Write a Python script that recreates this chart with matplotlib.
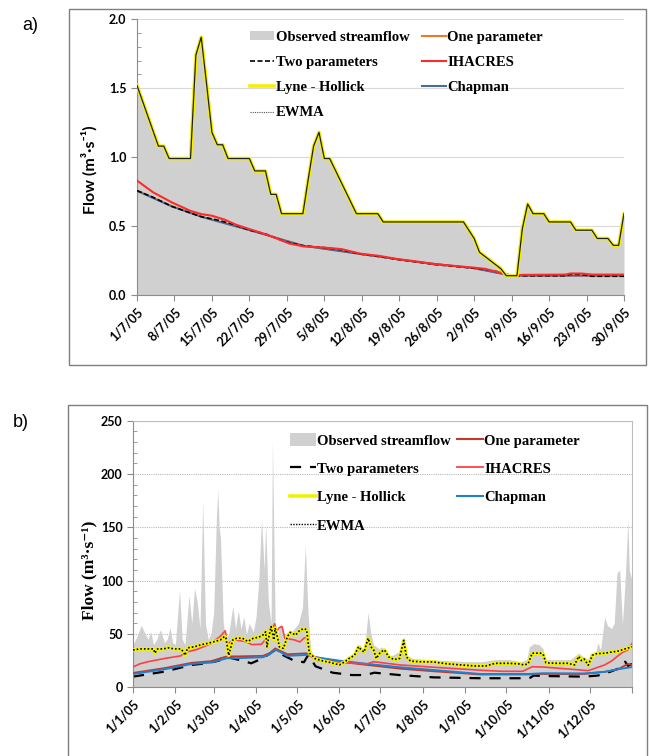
import matplotlib
matplotlib.use('Agg')
import matplotlib.pyplot as plt
import matplotlib.patches as mpatches
from matplotlib.lines import Line2D
from matplotlib.ticker import MultipleLocator, FixedLocator

# ---------------- Panel a data (1/7/05 - 30/9/05, day index) ----------------
a_tick_days = [0, 7, 14, 21, 28, 35, 42, 49, 56, 63, 70, 77, 84, 91]
a_tick_labels = ['1/7/05', '8/7/05', '15/7/05', '22/7/05', '29/7/05', '5/8/05', '12/8/05',
                 '19/8/05', '26/8/05', '2/9/05', '9/9/05', '16/9/05', '23/9/05', '30/9/05']

obs_a = [1.52, 1.41, 1.30, 1.19, 1.08, 1.08, 0.99, 0.99, 0.99, 0.99,
         0.99, 1.74, 1.87, 1.53, 1.18, 1.09, 1.09, 0.99, 0.99, 0.99,
         0.99, 0.99, 0.90, 0.90, 0.90, 0.73, 0.73, 0.59, 0.59, 0.59,
         0.59, 0.59, 0.84, 1.08, 1.18, 0.99, 0.99, 0.91, 0.83, 0.75,
         0.67, 0.59, 0.59, 0.59, 0.59, 0.59, 0.53, 0.53, 0.53, 0.53,
         0.53, 0.53, 0.53, 0.53, 0.53, 0.53, 0.53, 0.53, 0.53, 0.53,
         0.53, 0.53, 0.47, 0.41, 0.31, 0.28, 0.25, 0.22, 0.19, 0.14,
         0.14, 0.14, 0.48, 0.66, 0.59, 0.59, 0.59, 0.53, 0.53, 0.53,
         0.53, 0.53, 0.47, 0.47, 0.47, 0.47, 0.41, 0.41, 0.41, 0.36,
         0.36, 0.59]
lyne_a = obs_a
ewma_a = obs_a

ihacres_a_days = [0, 3, 6.5, 10, 12, 14, 16.4, 18.5, 21, 23.4, 25.9, 28.4, 31.2, 34.7, 38.2,
                  41.7, 45.2, 48.8, 52.3, 55.8, 59.3, 62.8, 65, 67.8, 69.9, 72, 80, 81, 83, 85, 91]
ihacres_a = [0.83, 0.745, 0.672, 0.61, 0.587, 0.575, 0.546, 0.51, 0.478, 0.449, 0.413, 0.374,
             0.352, 0.345, 0.333, 0.30, 0.284, 0.26, 0.243, 0.223, 0.211, 0.199, 0.19, 0.163,
             0.14, 0.146, 0.148, 0.156, 0.156, 0.148, 0.148]

two_a_days = [0, 3, 6.5, 10, 12, 15, 17.8, 21, 24.1, 27.7, 31.2, 34.7, 38.2, 41.7, 45.2, 48.8,
              52.3, 55.8, 59.3, 62.8, 65, 68.5, 70, 80, 81, 83, 85, 91]
two_a = [0.757, 0.709, 0.643, 0.595, 0.568, 0.544, 0.515, 0.471, 0.442, 0.386, 0.357, 0.345,
         0.328, 0.297, 0.28, 0.257, 0.24, 0.22, 0.208, 0.195, 0.187, 0.16, 0.14, 0.14, 0.15,
         0.15, 0.136, 0.136]

one_a_days = [0, 6.5, 12, 21, 31.2, 41.7, 52.3, 62.8, 70, 91]
one_a = [0.76, 0.645, 0.57, 0.472, 0.357, 0.298, 0.24, 0.196, 0.14, 0.14]
chap_a_days = [0, 6.5, 12, 21, 31.2, 41.7, 52.3, 62.8, 70, 91]
chap_a = [0.755, 0.642, 0.567, 0.47, 0.356, 0.297, 0.24, 0.195, 0.14, 0.14]

# ---------------- Panel b data (2005, day of year) ----------------
b_tick_days = [0, 31, 59, 90, 120, 151, 181, 212, 243, 273, 304, 334, 365]
b_tick_labels = ['1/1/05', '1/2/05', '1/3/05', '1/4/05', '1/5/05', '1/6/05', '1/7/05',
                 '1/8/05', '1/9/05', '1/10/05', '1/11/05', '1/12/05', '']

obs_b_days = [0, 3, 6, 9, 11, 13, 15, 17, 20, 23, 25, 27, 29, 31, 34, 36, 38, 41, 43, 45,
              47, 49, 51, 53, 55, 57, 59, 61, 62, 63, 64, 66, 68, 70, 73, 75, 77, 79, 81, 83,
              85, 88, 90, 92, 94, 96, 97, 99, 101, 102, 104, 106, 108, 110, 114, 118, 121, 124,
              126, 128, 130, 133, 140, 150, 158, 163, 166, 168, 170, 172, 174, 176, 180, 182,
              186, 190, 195, 198, 200, 205, 215, 230, 245, 255, 265, 275, 284, 288, 290, 293,
              297, 300, 301, 320, 326, 330, 334, 338, 340, 342, 345, 347, 350, 352, 354, 356,
              358, 360, 362, 363, 365]
obs_b = [40, 48, 58, 50, 45, 52, 40, 44, 54, 42, 45, 56, 42, 40, 91, 45, 40, 86, 60, 93,
         80, 55, 175, 60, 45, 50, 70, 158, 186, 150, 140, 60, 45, 50, 76, 55, 72, 55, 66, 50,
         60, 52, 66, 100, 158, 110, 154, 80, 60, 231, 60, 50, 60, 45, 48, 55, 60, 75,
         133, 70, 35, 28, 26, 24, 28, 32, 40, 35, 45, 70, 50, 40, 36, 38,
         30, 30, 34, 47, 30, 27, 26, 25, 24, 24, 26, 26, 24, 26, 38, 41,
         40, 36, 26, 26, 32, 28, 26, 30, 42, 35, 66, 58, 55, 60, 107, 110,
         59, 100, 157, 110, 100]

lyne_b_days = [0, 5, 10, 15, 16, 18, 22, 26, 30, 35, 37, 38, 40, 45, 50, 54, 60, 64, 67, 68,
               70, 73, 76, 80, 84, 88, 92, 95, 97, 98, 99, 101, 103, 104, 106, 107, 110, 113,
               115, 119, 122, 125, 127, 129, 131, 133, 138, 145, 151, 155, 158, 162, 165, 167,
               169, 172, 174, 176, 178, 181, 184, 187, 191, 195, 198, 200, 203, 210, 220, 230,
               240, 250, 258, 265, 270, 275, 282, 286, 289, 292, 298, 300, 302, 310, 318, 323,
               326, 328, 330, 333, 336, 339, 345, 350, 355, 360, 365]
lyne_b = [35, 36, 36, 36, 32, 36, 36, 37, 36, 36, 33, 30, 37, 38, 40, 41, 43, 44.5, 47.7, 46,
          30, 44.5, 46, 46, 43, 46, 47, 49, 52, 38, 45, 57, 44.5, 55.5, 45, 38, 36.5, 47.7,
          51.5, 49, 53.5, 55, 54, 32, 30, 27, 25, 23, 21, 24, 27, 30, 38, 35,
          33, 46, 38, 35, 27, 33, 35, 28.5, 26, 27, 44, 28.5, 24.5, 24, 23.7, 22,
          21, 20, 20, 22.5, 22.5, 22.5, 22, 21, 22, 32, 32, 31, 23, 22.5, 22.5, 21,
          29, 25, 26.5, 20.7, 30, 31.5, 32, 33, 34, 36, 38]
ewma_b_days = lyne_b_days
ewma_b = lyne_b

ihacres_b_days = [0, 5, 11, 23, 35, 38, 47, 57, 64, 67.5, 69, 74, 82, 87, 94, 99, 101, 103.6,
                  105, 107, 109, 111, 118, 122, 125, 127, 129, 135, 151, 171, 176, 195, 220,
                  254, 270, 285, 292, 300, 320, 333, 345, 350, 358, 362, 365]
ihacres_b = [19, 22, 24, 27, 29.5, 32.6, 35.6, 41, 48, 53, 41, 44.5, 43, 40, 40.4, 48, 53,
             59.5, 52, 56, 57, 46, 44.5, 42.5, 46, 47, 30, 25, 23.5, 21.9, 24, 21, 18.8,
             16, 15, 15, 19.3, 19, 17, 15.6, 21, 24.6, 32.8, 35, 41]

chap_b_days = [0, 23, 43, 57, 66, 69, 76, 95, 99.5, 104, 108, 112.5, 129, 131, 151, 171, 195,
               220, 254, 290, 300, 330, 345, 355, 365]
chap_b = [12.5, 16.9, 21.9, 23.2, 26.3, 27.3, 27.3, 28.2, 30.5, 35.2, 33, 29.5, 30.5, 28.5,
          25, 22, 18.8, 16.2, 12.5, 12.5, 13.2, 13, 14.5, 17, 19]

one_b_days = [0, 23, 43, 57, 66, 69, 76, 95, 100, 104, 108, 113, 129, 131, 151, 171, 195,
              220, 254, 290, 300, 330, 345, 355, 362, 365]
one_b = [13.5, 18, 23, 24.5, 28, 29, 29, 29.5, 32, 36.5, 34, 31, 32, 29, 24, 21, 17.5,
         15, 12, 12, 12.5, 12.5, 14.5, 17, 22, 21]

two_b_days = [0, 23, 43, 54, 63, 68, 72, 80, 86.5, 95, 104, 110, 117.7, 125, 128, 130, 133.5,
              146, 160, 170, 176.6, 195, 220, 254, 290, 293, 300, 330, 340, 350, 356, 360,
              362, 365]
two_b = [10, 14.7, 21, 22.5, 25, 30.5, 27.3, 25, 22.5, 27.3, 35, 30, 25, 23.5, 30, 27, 19.7,
         13.7, 11.5, 11.5, 13.7, 11.5, 9.3, 8.5, 8.5, 11, 10.6, 10, 11, 15, 18, 24, 20, 22]

# ---------------- Figure ----------------
W, H = 649, 756
fig = plt.figure(figsize=(W / 100, H / 100), dpi=100)

SANS = ['Lato', 'DejaVu Sans']
SERIF = ['Liberation Serif', 'DejaVu Serif']
GRAY_OBS = '#d0d0d0'
AXC = '#8c8c8c'

# outer boxes
fig.add_artist(mpatches.Rectangle((69 / W, 1 - 365 / H), (646 - 69) / W, (365 - 9) / H,
                                  transform=fig.transFigure, fill=False, ec='#7f7f7f', lw=1.0))
fig.add_artist(mpatches.Rectangle((68 / W, -0.05), (647 - 68) / W, 0.05 + 1 - 405 / H,
                                  transform=fig.transFigure, fill=False, ec='#7f7f7f', lw=1.0))

fig.text(22 / W, 1 - 25 / H, 'a)', fontsize=13, family='Liberation Sans', va='center', ha='left')
fig.text(13 / W, 1 - 422 / H, 'b)', fontsize=13, family='Liberation Sans', va='center', ha='left')

# ---------- Panel a ----------
axa = fig.add_axes([137 / W, 1 - 295 / H, (624 - 137) / W, (295 - 19.3) / H])
xa = list(range(len(obs_a)))
axa.fill_between(xa, obs_a, 0, color=GRAY_OBS, lw=0, zorder=1)
axa.plot(one_a_days, one_a, color='#f07828', lw=1.3, zorder=2)
axa.plot(chap_a_days, chap_a, color='#4a6a9a', lw=1.3, zorder=2)
axa.plot(two_a_days, two_a, color='black', lw=1.2, dashes=(3, 1.5), zorder=3)
axa.plot(ihacres_a_days, ihacres_a, color='#ff2a2a', lw=1.5, zorder=4)
axa.plot(xa, lyne_a, color='#f5f000', lw=2.6, zorder=5)
axa.plot(xa, ewma_a, color='#202020', lw=0.9, zorder=6)

axa.set_xlim(0, 91)
axa.set_ylim(0, 2.0)
axa.set_yticks([0, 0.5, 1.0, 1.5, 2.0])
axa.set_yticklabels(['0.0', '0.5', '1.0', '1.5', '2.0'])
axa.yaxis.set_minor_locator(MultipleLocator(0.1))
axa.set_xticks(a_tick_days)
axa.set_xticklabels(a_tick_labels, rotation=45, ha='right', rotation_mode='anchor')
axa.grid(axis='y', color='#d9d9d9', lw=0.8, zorder=0)
axa.set_axisbelow(True)
for s in ['top', 'right']:
    axa.spines[s].set_visible(False)
for s in ['left', 'bottom']:
    axa.spines[s].set_color(AXC)
axa.tick_params(axis='both', which='major', direction='out', length=4, color=AXC, width=0.8)
axa.tick_params(axis='y', which='minor', direction='in', length=3, color=AXC, width=0.6)
for t in axa.get_xticklabels() + axa.get_yticklabels():
    t.set_family(SANS)
    t.set_fontweight('bold')
    t.set_fontsize(9)
fig.text(89 / W, 1 - 170 / H, 'Flow (m³·s⁻¹)', rotation=90, family=SANS, fontweight='bold',
         fontsize=11.5, ha='center', va='center')

h_obs = mpatches.Patch(color=GRAY_OBS, lw=0)
la_handles = [h_obs,
              Line2D([], [], color='black', lw=1.2, dashes=(3, 1.5)),
              Line2D([], [], color='#f5f000', lw=2.6),
              Line2D([], [], color='#555555', lw=0.8, ls=(0, (1, 1))),
              Line2D([], [], color='#f07828', lw=1.5),
              Line2D([], [], color='#ff2a2a', lw=1.5),
              Line2D([], [], color='#4a6a9a', lw=1.5)]
la_labels = ['Observed streamflow', 'Two parameters', 'Lyne - Hollick', 'EWMA',
             'One parameter', 'IHACRES', 'Chapman']
axa.legend(la_handles, la_labels, ncol=2, loc='upper left',
           bbox_to_anchor=(250 / W, 1 - 31 / H), bbox_transform=fig.transFigure,
           frameon=False, borderpad=0, borderaxespad=0, handlelength=1.65, handleheight=0.55,
           handletextpad=0.1, columnspacing=0.85, labelspacing=0.83,
           prop={'family': SERIF, 'weight': 'bold', 'size': 10.5})

# ---------- Panel b ----------
axb = fig.add_axes([133 / W, 1 - 687.3 / H, (632 - 133) / W, (687.3 - 420.7) / H])
axb.fill_between(obs_b_days, obs_b, 0, color=GRAY_OBS, lw=0, zorder=1)
axb.plot(two_b_days, two_b, color='black', lw=1.6, dashes=(5, 4), zorder=2)
axb.plot(one_b_days, one_b, color='#c0392b', lw=1.3, zorder=3)
axb.plot(chap_b_days, chap_b, color='#1f80d0', lw=1.4, zorder=3)
axb.plot(ihacres_b_days, ihacres_b, color='#ff4040', lw=1.2, zorder=4)
axb.plot(lyne_b_days, lyne_b, color='#f2f200', lw=2.6, zorder=5)
axb.plot(ewma_b_days, ewma_b, color='black', lw=1.2, ls=(0, (1, 1.2)), zorder=6)

axb.set_xlim(0, 365)
axb.set_ylim(0, 250)
axb.set_yticks([0, 50, 100, 150, 200, 250])
axb.yaxis.set_minor_locator(MultipleLocator(10))
axb.set_xticks(b_tick_days)
axb.set_xticklabels(b_tick_labels, rotation=45, ha='right', rotation_mode='anchor')
axb.grid(axis='y', color='#b8b8b8', lw=0.8, ls=(0, (1, 1)), zorder=0)
axb.set_axisbelow(True)
for s in ['top', 'right']:
    axb.spines[s].set_color('#bdbdbd')
for s in ['left', 'bottom']:
    axb.spines[s].set_color(AXC)
axb.tick_params(axis='both', which='major', direction='out', length=4, color=AXC, width=0.8)
axb.tick_params(axis='y', which='minor', direction='in', length=3, color=AXC, width=0.6)
for t in axb.get_xticklabels() + axb.get_yticklabels():
    t.set_family(SANS)
    t.set_fontweight('bold')
    t.set_fontsize(9)
fig.text(89 / W, 1 - 570 / H, 'Flow (m³·s⁻¹)', rotation=90, family=SERIF, fontweight='bold',
         fontsize=12.5, ha='center', va='center')

lb_handles = [h_obs,
              Line2D([], [], color='black', lw=1.6, dashes=(5, 4)),
              Line2D([], [], color='#f2f200', lw=2.6),
              Line2D([], [], color='black', lw=1.0, ls=(0, (1, 1))),
              Line2D([], [], color='#c0392b', lw=1.5),
              Line2D([], [], color='#ff4040', lw=1.3),
              Line2D([], [], color='#1f80d0', lw=1.5)]
axb.legend(lb_handles, la_labels, ncol=2, loc='upper left',
           bbox_to_anchor=(290 / W, 1 - 433.5 / H), bbox_transform=fig.transFigure,
           frameon=False, borderpad=0, borderaxespad=0, handlelength=1.75, handleheight=0.9,
           handletextpad=0.1, columnspacing=0.45, labelspacing=0.98,
           prop={'family': SERIF, 'weight': 'bold', 'size': 10.5})

fig.savefig('out.png', dpi=100)
